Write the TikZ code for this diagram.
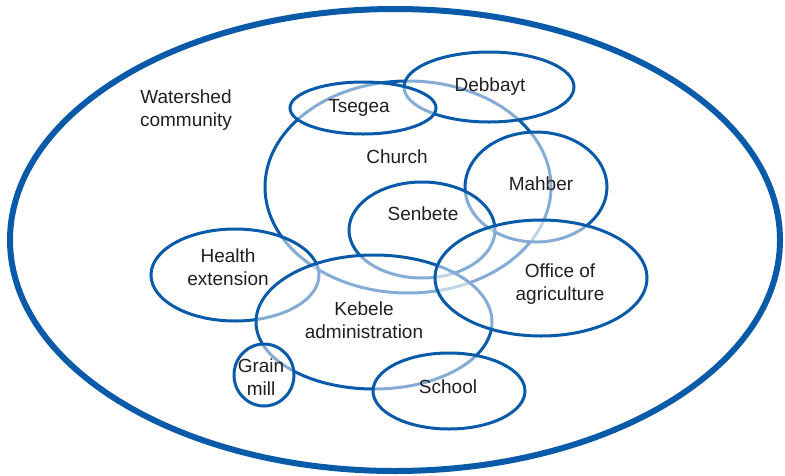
\documentclass[tikz,border=0pt]{standalone}
\usepackage{fontspec}
\setmainfont{Liberation Sans}
\definecolor{ringblue}{RGB}{10,90,170}
\definecolor{labelgray}{RGB}{35,31,32}
\begin{document}
\begin{tikzpicture}[x=1pt,y=-1pt,
    ring/.style={draw=ringblue,line width=3pt,fill=white,fill opacity=0.5},
    lbl/.style={text=labelgray,font=\fontsize{19}{23}\selectfont,align=center,inner sep=0pt}]
            \useasboundingbox (0,0) rectangle (785,475);
            % outer community
            \draw[ringblue,line width=6pt] (395,240) ellipse [x radius=385,y radius=231];
            % groups, later ones wash out the lines below them
            \filldraw[ring] (408,187) ellipse [x radius=143,y radius=106];
            \filldraw[ring] (489,87) ellipse [x radius=85,y radius=35];
            \filldraw[ring] (363,108) ellipse [x radius=73,y radius=26];
            \filldraw[ring] (536,187) ellipse [x radius=71,y radius=55];
            \filldraw[ring] (422,230) ellipse [x radius=73,y radius=48];
            \filldraw[ring] (235,275) ellipse [x radius=84,y radius=46];
            \filldraw[ring] (374,322) ellipse [x radius=118,y radius=67];
            \filldraw[ring] (541,278) ellipse [x radius=106,y radius=58];
            \filldraw[ring] (449,391) ellipse [x radius=76,y radius=38];
            \filldraw[ring] (264,375) ellipse [x radius=30,y radius=31];
            % labels
            \node[lbl] (watershed) at (186,110) {Watershed\\community};
            \node[lbl] (church) at (397,157) {Church};
            \node[lbl] (debbayt) at (490,87) {Debbayt};
            \node[lbl] (tsegea) at (359,108) {Tsegea};
            \node[lbl] (mahber) at (541,184) {Mahber};
            \node[lbl] (senbete) at (423,214) {Senbete};
            \node[lbl] (health) at (228,267) {Health\\extension};
            \node[lbl] (kebele) at (364,320) {Kebele\\administration};
            \node[lbl] (office) at (560,284) {Office of\\agriculture};
            \node[lbl] (school) at (448,387) {School};
            \node[lbl] (grain) at (261,377) {Grain\\mill};
        \end{tikzpicture}
\end{document}
